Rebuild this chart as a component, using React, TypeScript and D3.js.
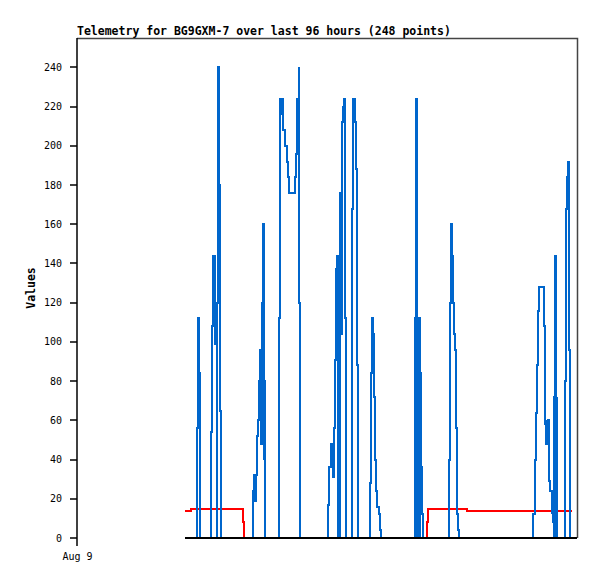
import * as d3 from "d3";

// hours since window start (96 h) and value
const blueHours = [
  20.74, 22.98, 23.17, 23.42, 23.56, 23.67,
  25.79, 25.98, 26.17, 26.44, 26.55, 26.69, 26.82, 26.94, 27.13, 27.32, 27.51, 27.71,
  33.73, 33.93, 34.18, 34.31, 34.56, 34.69, 34.89, 35.14, 35.27, 35.46, 35.65, 35.85, 35.96, 36.1,
  38.73, 38.92, 39.11, 39.3, 39.49, 39.61, 40.0, 40.26, 40.51, 40.76, 41.8, 41.99, 42.18, 42.3, 42.43, 42.57, 42.68, 42.82,
  48.25, 48.44, 48.71, 49.15, 49.34, 49.54, 49.67, 49.79, 49.98, 50.11, 50.25, 50.44, 50.5, 50.55, 50.75, 50.88, 51.13, 51.32, 51.51, 51.71,
  52.74, 52.86, 53.05, 53.32, 53.51, 53.7, 53.89,
  56.31, 56.51, 56.7, 56.89, 57.08, 57.27, 57.47, 57.66, 57.93, 58.12, 58.37,
  64.95, 65.09, 65.22, 65.34, 65.47, 65.61, 65.72, 65.86, 65.91, 66.05, 66.24, 66.49,
  71.48, 71.67, 71.87, 72.06, 72.25, 72.38, 72.58, 72.77, 72.96, 73.21, 73.4,
  87.61, 87.88, 88.07, 88.26, 88.45, 88.65, 89.66, 89.86, 90.05, 90.18, 90.3, 90.43, 90.62, 90.87, 91.2, 91.39, 91.58, 91.64, 91.84, 91.97, 92.1, 92.22,
  93.7, 93.89, 94.08, 94.27, 94.41, 94.6, 94.98,
];
const blueValues = [
  0, 56, 112, 84, 28, 0,
  54, 108, 144, 128, 99, 108, 0, 120, 240, 180, 65, 0,
  24, 32, 19, 32, 52, 60, 80, 96, 48, 120, 160, 40, 80, 0,
  112, 224, 216, 224, 216, 208, 200, 192, 184, 176, 184, 196, 204, 224, 196, 240, 120, 0,
  17, 36, 48, 31, 56, 91, 120, 137, 144, 0, 132, 44, 0, 176, 104, 212, 220, 224, 112, 0,
  56, 168, 224, 212, 188, 88, 0,
  28, 84, 112, 104, 72, 40, 24, 16, 12, 4, 0,
  112, 224, 112, 0, 112, 0, 112, 0, 84, 36, 12, 0,
  40, 120, 160, 144, 120, 104, 96, 56, 12, 4, 0,
  12, 40, 64, 88, 116, 128, 108, 58, 48, 60, 55, 60, 29, 24, 13, 8, 0, 72, 144, 0, 72, 0,
  80, 168, 184, 192, 96, 0, 0,
];

const redHours = [20.74, 21.83, 31.81, 32.06, 67.2, 67.39, 74.82, 94.98];
const redValues = [14, 15, 8, 0, 8, 15, 14, 14];

const blackHours = [20.74, 96];
const blackValues = [0, 0];

const yTicks = [0, 20, 40, 60, 80, 100, 120, 140, 160, 180, 200, 220, 240];
const xTickHours = [0];
const xTickLabels = ["Aug 9"];

const W = 597;
const H = 579;
const left = 77;
const right = 577;
const top = 38;
const bottom = 538;
const mono = "'DejaVu Sans Mono', monospace";

export default function App() {
  const x = d3.scaleLinear().domain([0, 96]).range([left, right]);
  const y = d3.scaleLinear().domain([0, 255]).range([bottom, top]);

  const line = (hs: number[], vs: number[]) =>
    d3
      .line<number>()
      .x((_, i) => Math.round(x(hs[i])))
      .y((v) => Math.round(y(v)))
      .curve(d3.curveStepAfter)(vs) ?? "";

  return (
    <svg
      width={W}
      height={H}
      style={{ position: "absolute", left: 0, top: 0, background: "#fff" }}
    >
      <rect x={0} y={0} width={W} height={H} fill="#fff" />
      {/* frame */}
      <path
        d={`M${left},${top + 0.5}H${right + 0.5}V${bottom}`}
        fill="none"
        stroke="#444"
        strokeWidth={1.5}
      />
      <line x1={left} x2={left} y1={top} y2={bottom + 8} stroke="#000" strokeWidth={1.5} />

      {/* y axis */}
      {yTicks.map((t) => (
        <g key={t}>
          <line
            x1={left - 7}
            x2={left}
            y1={Math.round(y(t))}
            y2={Math.round(y(t))}
            stroke="#000"
            strokeWidth={1.5}
          />
          <text
            x={62}
            y={y(t)}
            dy="0.35em"
            textAnchor="end"
            fontFamily={mono}
            fontSize={10}
            fill="#000"
          >
            {t}
          </text>
        </g>
      ))}

      {/* x axis */}
      {xTickHours.map((h, i) => (
        <text
          key={h}
          x={x(h) + 0.5}
          y={560}
          textAnchor="middle"
          fontFamily={mono}
          fontSize={10}
          fill="#000"
        >
          {xTickLabels[i]}
        </text>
      ))}

      {/* series */}
      <g fill="none" strokeWidth={2} shapeRendering="crispEdges" strokeLinejoin="miter">
        <path d={line(redHours, redValues)} stroke="#ff0000" />
        <path d={line(blueHours, blueValues)} stroke="#0066cc" />
        <path d={line(blackHours, blackValues)} stroke="#000" />
      </g>

      {/* labels */}
      <text x={left} y={34.5} fontFamily={mono} fontSize={11.5} fontWeight="bold" fill="#000">
        Telemetry for BG9GXM-7 over last 96 hours (248 points)
      </text>
      <text
        transform={`translate(35,${(top + bottom) / 2}) rotate(-90)`}
        textAnchor="middle"
        fontFamily={mono}
        fontSize={11.5}
        fontWeight="bold"
        fill="#000"
      >
        Values
      </text>
    </svg>
  );
}
